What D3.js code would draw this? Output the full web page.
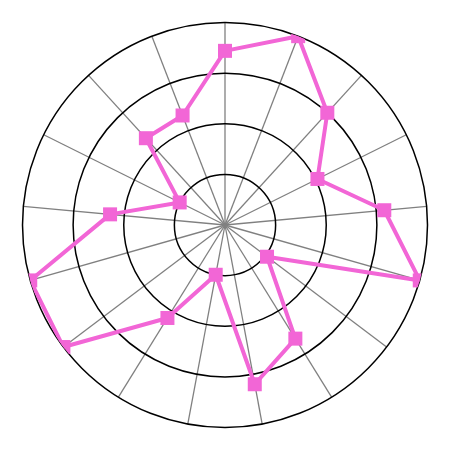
<!DOCTYPE html>
<html>
<head>
<meta charset="utf-8">
<script src="https://cdn.jsdelivr.net/npm/d3@7"></script>
<style>
  html, body { margin: 0; padding: 0; background: #fff; }
  svg { display: block; }
</style>
</head>
<body>
<svg id="chart" width="450" height="450"></svg>
<script>
// Data (clockwise from top)
const categories = ["A","B","C","D","E","F","G","H","I","J","K","L","M","N","O","P","Q"];
const values = [86, 100, 75, 51, 79, 100, 26, 66, 80, 25, 54, 100, 100, 57, 25, 58, 58];
const ringTicks = [25, 50, 75, 100];
const maxValue = 100;

const width = 450, height = 450;
const cx = 225, cy = 225;
const R = 202.5;

const svg = d3.select("#chart");
const g = svg.append("g").attr("transform", `translate(${cx},${cy})`);

const r = d3.scaleLinear().domain([0, maxValue]).range([0, R]);
const angle = d3.scaleBand().domain(categories).range([0, 2 * Math.PI]).align(0);
const a = d => angle(d);

// spokes
g.append("g").selectAll("line")
  .data(categories)
  .join("line")
  .attr("x1", 0).attr("y1", 0)
  .attr("x2", d => r(maxValue) * Math.sin(a(d)))
  .attr("y2", d => -r(maxValue) * Math.cos(a(d)))
  .attr("stroke", "#808080")
  .attr("stroke-width", 1.3);

// rings
g.append("g").selectAll("circle")
  .data(ringTicks)
  .join("circle")
  .attr("r", d => r(d))
  .attr("fill", "none")
  .attr("stroke", "#000")
  .attr("stroke-width", 1.5);

// clip
svg.append("defs").append("clipPath").attr("id", "clip")
  .append("circle").attr("r", R);

const data = categories.map((c, i) => ({ c, v: values[i] }));

const dataG = g.append("g").attr("clip-path", "url(#clip)");

const line = d3.lineRadial()
  .angle(d => a(d.c))
  .radius(d => r(d.v))
  .curve(d3.curveLinearClosed);

dataG.append("path")
  .datum(data)
  .attr("d", line)
  .attr("fill", "none")
  .attr("stroke", "#f266d6")
  .attr("stroke-width", 4)
  .attr("stroke-linejoin", "round");

const ms = 14;
dataG.selectAll("rect")
  .data(data)
  .join("rect")
  .attr("x", d => r(d.v) * Math.sin(a(d.c)) - ms / 2)
  .attr("y", d => -r(d.v) * Math.cos(a(d.c)) - ms / 2)
  .attr("width", ms)
  .attr("height", ms)
  .attr("fill", "#f266d6");
</script>
</body>
</html>
